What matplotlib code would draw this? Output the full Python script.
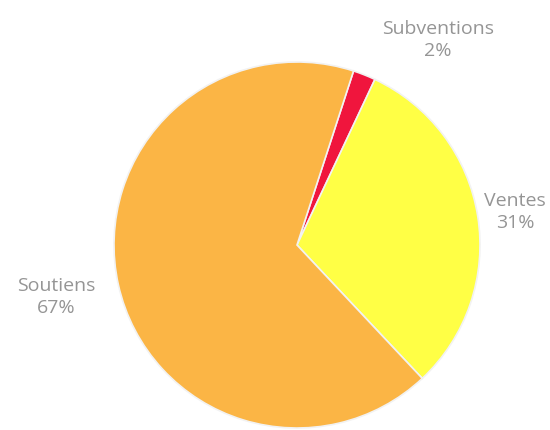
import numpy as np
import matplotlib
matplotlib.use("Agg")
import matplotlib.pyplot as plt

# revenue split
labels = ["Subventions", "Ventes", "Soutiens"]
shares = [2, 31, 67]
colors = ["#F0153D", "#FFFF45", "#FBB545"]

# label placement (distance from centre, angle offset in degrees vs wedge middle)
label_dist = [1.36, 1.205, 1.347]
label_shift = [-12.9, -0.4, -0.4]

fig = plt.figure(figsize=(5.5, 4.3), dpi=100)
ax = fig.add_axes([0, 0, 1, 1])

R_PX = 183.0
cx, cy = 297.0, 245.0

wedges, _ = ax.pie(shares, colors=colors, startangle=72, counterclock=False,
                   radius=1.0, center=(0, 0), frame=True,
                   wedgeprops=dict(edgecolor="#f2f2f2", linewidth=1.2))
ax.set_xlim(-cx / R_PX, (550 - cx) / R_PX)
ax.set_ylim(-(430 - cy) / R_PX, cy / R_PX)
ax.set_aspect("equal")
ax.axis("off")

for w, lab, s, d, sh in zip(wedges, labels, shares, label_dist, label_shift):
    mid = np.deg2rad((w.theta1 + w.theta2) / 2 + sh)
    ax.text(d * np.cos(mid), d * np.sin(mid), f"{lab}\n{s}%",
            ha="center", va="center", fontsize=14, color="#959595",
            family="Open Sans", linespacing=1.3)

fig.savefig("out.png", dpi=100)
